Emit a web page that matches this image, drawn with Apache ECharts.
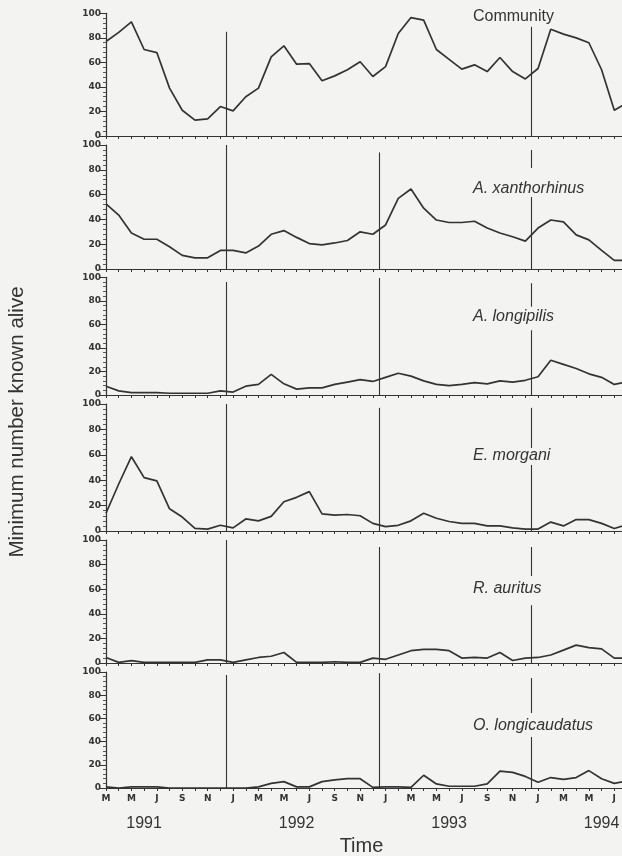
<!DOCTYPE html>
<html><head><meta charset="utf-8">
<script src="https://cdn.jsdelivr.net/npm/echarts@6/dist/echarts.min.js"></script>
<style>html,body{margin:0;padding:0;background:#f3f3f1}#c{width:622px;height:856px}</style>
</head><body><div id="c"></div>
<script>
// Month index 0 = March 1991 ... 41 = August 1994
const monthLetters = ['M','A','M','J','J','A','S','O','N','D',
  'J','F','M','A','M','J','J','A','S','O','N','D',
  'J','F','M','A','M','J','J','A','S','O','N','D',
  'J','F','M','A','M','J','J','A'];
const yearLabels = ['','','','1991','','','','','','','','','','','','1992','','','','','','','','','','','','1993','','','','','','','','','','','','1994','',''];
const yTicks = [0,20,40,60,80,100];
const panelNames = ['Community','A. xanthorhinus','A. longipilis','E. morgani','R. auritus','O. longicaudatus'];

const community = [77,84.5,93,70.5,68,39,21,13,14,24,20.5,32,39,64.5,73.5,58.5,59,45,49,54,60.5,48.5,56.5,83.5,96.5,94.5,70.5,62.5,54.5,58,52.5,64,52.5,46.5,55,87,83,80,76,54,21,27];
const xanthorhinus = [52.5,43.5,29,24,24,18,11,9,9,15,15,13,18.5,28,31,25.5,20.5,19.5,21,23,30,28,35.5,57,64.5,49,39.5,37.5,37.5,38.5,33,29,26,22.5,33,39.5,38,27.5,23.5,15,7,7];
const longipilis = [7.5,3.5,2,2,2,1.5,1.5,1.5,1.5,3.5,2.5,7.5,9,17.5,9.5,5,6,6,9,11,13,11.5,15,18.5,16,12,9,8,9,10.5,9.5,12,11,12.5,15.5,29.5,26,22.5,18,15,9,11];
const morgani = [14,37,58.5,42,39.5,17.5,11,2,1.5,4.5,2.5,9.5,8,11.5,23,26.5,31,13.5,12.5,13,12,6,3.5,4.5,8,14,10,7.5,6,6,4,4,2.5,1.5,1.5,7,4,9,9,6,2,5];
const auritus = [4.5,0.5,2,0.5,0.5,0.5,0.5,0.5,2.5,2.5,0.5,2.5,4.5,5.5,8.5,0.5,0.5,0.5,1,0.5,0.5,4,3,6.5,10,11,11,10,4,4.5,4,8.5,2,4,4.5,6.5,10.5,14.5,12.5,11.5,4,4];
const longicaudatus = [1,0,1,1,1,0,0,0,0,0,0,0,1,4,5.5,1,1,5.5,7,8,8,0.5,1,1,0.5,11,3.5,1.5,1.5,1.5,3.5,14.5,13.5,10,5,9,7.5,9,15,8,4,6];
const seriesValues = [community, xanthorhinus, longipilis, morgani, auritus, longicaudatus];

// January boundaries (between December and January samples)
const januaryMarks = [9.5, 21.5, 33.5];
// visible extents of each January line, per panel, in axis units
const januarySegments = [
  [[[0,85]], [[0,101]], [[0,89]]],
  [[[0,100]], [[0,94]], [[0,58],[81.5,96]]],
  [[[0,96]], [[0,99.4]], [[0,55],[75,95]]],
  [[[0,100]], [[0,97]], [[0,52],[65.4,97]]],
  [[[0,100]], [[0,94.3]], [[0,47],[70.7,94.3]]],
  [[[0,97.4]], [[0,99]], [[0,44],[64.6,94.8]]]
];

const gridTops = [13.3, 145, 277.3, 404, 540, 672];
const gridHeights = [122.7, 124, 117.7, 127, 123, 116];
const titleCenters = [17.7, 190, 318, 457, 590, 727];
const ink = '#333333';

const chart = echarts.init(document.getElementById('c'), null, {renderer:'canvas'});
const grids = [], xAxes = [], yAxes = [], series = [], titles = [];
seriesValues.forEach((vals, p) => {
  grids.push({left:106, width:521, top:gridTops[p], height:gridHeights[p], containLabel:false, outerBoundsMode:'none'});
  const last = p === seriesValues.length - 1;
  xAxes.push({
    type:'value', gridIndex:p, min:0, max:41, interval:1,
    axisLine:{show:true, onZero:false, lineStyle:{color:ink, width:1.2}},
    axisTick:{show:true, inside:false, length:3, lineStyle:{color:ink, width:1}},
    splitLine:{show:false},
    axisLabel:{show:last, interval:0, margin:6, color:'#333', fontFamily:'DejaVu Sans', fontWeight:'bold', fontSize:9,
      formatter:(v)=> (v % 2 === 0 && monthLetters[v]) ? monthLetters[v] : ''},
    name: last ? 'Time' : '', nameLocation:'middle', nameGap:48,
    nameTextStyle:{fontFamily:'Liberation Sans', fontSize:20, color:'#333', padding:[0,0,0,-10]}
  });
  yAxes.push({
    type:'value', gridIndex:p, min:0, max:100, interval:20,
    axisLine:{show:true, lineStyle:{color:ink, width:1.2}},
    axisTick:{show:true, inside:false, length:6, lineStyle:{color:ink, width:1}},
    minorTick:{show:true, splitNumber:5, length:3, lineStyle:{color:ink, width:0.8}},
    splitLine:{show:false},
    axisLabel:{show:true, margin:5, color:'#333', fontFamily:'DejaVu Sans', fontWeight:'bold', fontSize:9,
      formatter:(v)=> yTicks.includes(v) ? String(v) : ''}
  });
  const segs = [];
  januaryMarks.forEach((m, j) => {
    januarySegments[p][j].forEach(s => segs.push([{coord:[m, s[0]]},{coord:[m, s[1]]}]));
  });
  series.push({
    type:'line', xAxisIndex:p, yAxisIndex:p,
    data: vals.map((v,i)=>[i,v]),
    symbol:'none', smooth:false, clip:true,
    lineStyle:{color:ink, width:1.7},
    markLine:{symbol:['none','none'], silent:true, animation:false,
      lineStyle:{color:ink, width:1.1, type:'solid'}, label:{show:false}, emphasis:{disabled:true},
      data:segs}
  });
  titles.push({text:panelNames[p], left:473, top:titleCenters[p]-9, padding:0,
    textStyle:{fontFamily:'Liberation Sans', fontSize:16, fontWeight:'normal', color:'#333',
      fontStyle: p === 0 ? 'normal' : 'italic'}});
});
// year labels: extra axis on the bottom grid
xAxes.push({
  type:'value', gridIndex:5, min:0, max:41, interval:1, position:'bottom',
  axisLine:{show:false}, axisTick:{show:false}, splitLine:{show:false},
  axisLabel:{show:true, interval:0, margin:28, color:'#333', fontFamily:'Liberation Sans', fontSize:16,
    formatter:(v)=> yearLabels[v] || ''}
});

chart.setOption({
  backgroundColor:'#f3f3f1',
  animation:false,
  title:titles,
  grid:grids, xAxis:xAxes, yAxis:yAxes, series:series,
  graphic:[{type:'text', x:17, y:422, rotation:Math.PI/2,
    style:{text:'Minimum number known alive', fontFamily:'Liberation Sans', fontSize:20.5, fill:'#333',
      align:'center', verticalAlign:'middle'}}]
});
</script></body></html>
